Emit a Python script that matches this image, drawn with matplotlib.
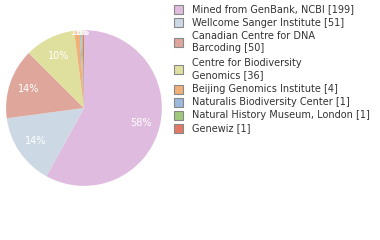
import numpy as np
import matplotlib
matplotlib.use("Agg")
import matplotlib.pyplot as plt
from matplotlib.patches import Rectangle

labels = ["Mined from GenBank, NCBI [199]", "Wellcome Sanger Institute [51]",
          "Canadian Centre for DNA\nBarcoding [50]", "Centre for Biodiversity\nGenomics [36]",
          "Beijing Genomics Institute [4]", "Naturalis Biodiversity Center [1]",
          "Natural History Museum, London [1]", "Genewiz [1]"]
counts = [199, 51, 50, 36, 4, 1, 1, 1]
colors = ["#dfbcdf", "#ccd9e5", "#dfa79b", "#dfe09e", "#efb07a", "#9cb8dc", "#a2c87c", "#e07a66"]

fig = plt.figure(figsize=(3.8, 2.4), dpi=100)
ax = fig.add_axes([0.016, 0.225, 0.41, 0.65])

wedges, texts, autotexts = ax.pie(counts, colors=colors, startangle=90, counterclock=False,
                                  autopct=lambda p: "%d%%" % int(p), pctdistance=0.75,
                                  textprops=dict(color="white", fontsize=7))
total = sum(counts)
for w, t, c in zip(wedges, autotexts, counts):
    if c / total < 0.05:
        ang = np.deg2rad((w.theta1 + w.theta2) / 2)
        t.set_position((0.97 * np.cos(ang), 0.97 * np.sin(ang)))
        t.set_fontsize(6)
ax.set_xlim(-1, 1)
ax.set_ylim(-1, 1)
ax.set_aspect("equal")

# legend drawn by hand
y = 9.5
for lab, col in zip(labels, colors):
    n = lab.count("\n") + 1
    yc = y + (n - 1) * 6.5
    fig.patches.append(Rectangle((174 / 380, 1 - (yc + 4.5) / 240), 9 / 380, 9 / 240,
                                 transform=fig.transFigure, facecolor=col,
                                 edgecolor="#888888", linewidth=0.8))
    fig.text(192 / 380, 1 - yc / 240, lab, fontsize=7, color="#333333",
             va="center", ha="left", linespacing=1.35)
    y += 13 * n + (1 if n > 1 else 0)

fig.savefig("out.png", dpi=100)
